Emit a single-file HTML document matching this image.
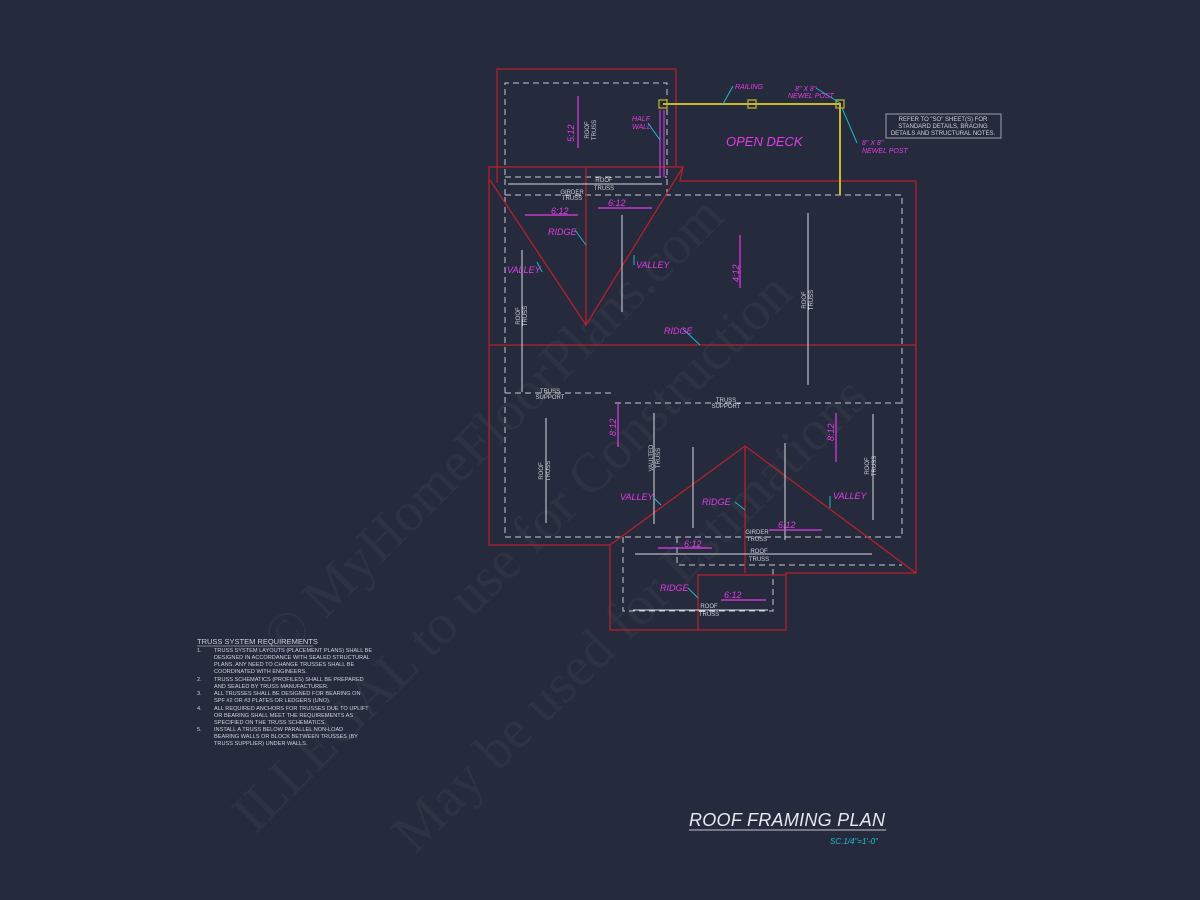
<!DOCTYPE html>
<html><head><meta charset="utf-8"><style>
html,body{margin:0;padding:0;background:#252a3c;}
svg{display:block}
.m{fill:#e43ce4;font-family:"Liberation Sans",sans-serif;font-style:italic;}
.w{fill:#d0d0d8;font-family:"Liberation Sans",sans-serif;}
</style></head><body>
<svg width="1200" height="900" viewBox="0 0 1200 900" xmlns="http://www.w3.org/2000/svg">
<rect width="1200" height="900" fill="#252a3c"/>
<g font-family="Liberation Serif,serif" font-size="56" fill="#ffffff" fill-opacity="0.045">
<text transform="translate(285,660) rotate(-45)">© MyHomeFloorPlans.com</text>
<text transform="translate(255,835) rotate(-45)">ILLEGAL to use for Construction</text>
<text transform="translate(415,855) rotate(-45)">May be used for Estimations</text>
</g>
<g stroke="#c8c8d0" stroke-width="1" fill="none" stroke-dasharray="6,4">
<path d="M505,195 V83 H667 V195"/>
<path d="M505,177 H667"/>
<path d="M505,195 H902 V537 H505 Z"/>
<path d="M505,393 H615"/>
<path d="M615,403 H902"/>
<path d="M623,537 V611 H773 V565"/>
<path d="M677,537 V565 H902"/>
</g>
<g stroke="#b4202c" stroke-width="1.3" fill="none">
<path d="M497,183 V69 H676 V167"/>
<path d="M489,167 H683 L680,181 H916 V573 H786 V630 H610 V545 H489 Z"/>
<path d="M489,345 H916"/>
<path d="M490,180 L586,325 L683,167 M586,167 V325"/>
<path d="M610,545 L745,446 L916,573 M745,446 V573 M698,630 V575 H786"/>
</g>
<g stroke="#d8d8e0" stroke-width="1">
<path d="M508,184 H662"/>
<path d="M522,250 V392 M622,215 V312 M808,213 V385 M546,418 V523 M654,413 V524 M693,447 V528 M785,443 V540 M873,414 V520 M635,554 H872 M633,610 H768"/>
</g>
<g stroke="#e43ce4" stroke-width="1.2">
<path d="M578,96 V148 M740,235 V288 M525,215 H578 M598,208 H652 M618,403 V447 M836,413 V462 M769,530 H822 M658,548 H712 M721,600 H766"/>
</g>
<g stroke="#c8b830" stroke-width="2" fill="none">
<path d="M663,104 H840 V195"/>
<rect x="659" y="100" width="8" height="8" stroke-width="1.2"/>
<rect x="748" y="100" width="8" height="8" stroke-width="1.2"/>
<rect x="836" y="100" width="8" height="8" stroke-width="1.2"/>
</g>
<path d="M660,110 V177 M664,110 V177" stroke="#c040d0" stroke-width="1.2"/>
<g stroke="#20b8c8" stroke-width="1" fill="none">
<path d="M733,86 L723,104 M816,88 L840,103 M842,108 L857,143 M648,123 L660,140"/>
<path d="M575,230 L586,245 M537,262 L542,272 M634,255 L634,265 M683,329 L700,345"/>
<path d="M654,498 L661,505 M735,502 L745,510 M830,496 L830,508 M688,588 L698,598"/>
</g>
<g class="m" font-size="9">
<text x="735" y="89" font-size="7">RAILING</text>
<text x="795" y="91" font-size="7">8" X 8"</text><text x="788" y="98" font-size="7">NEWEL POST</text>
<text x="862" y="145" font-size="7">8" X 8"</text><text x="862" y="153" font-size="7">NEWEL POST</text>
<text x="632" y="121" font-size="7">HALF</text><text x="632" y="129" font-size="7">WALL</text>
<text x="726" y="146" font-size="13">OPEN DECK</text>
<text x="551" y="214">6:12</text><text x="608" y="206">6:12</text>
<text x="548" y="235">RIDGE</text>
<text x="507" y="273">VALLEY</text><text x="636" y="268">VALLEY</text>
<text x="664" y="334">RIDGE</text>
<text x="620" y="500">VALLEY</text><text x="702" y="505">RIDGE</text><text x="833" y="499">VALLEY</text>
<text x="778" y="528">6:12</text><text x="684" y="547">6:12</text>
<text x="660" y="591">RIDGE</text><text x="724" y="598">6:12</text>
<text transform="translate(574,142) rotate(-90)">5:12</text>
<text transform="translate(739,282) rotate(-90)">4:12</text>
<text transform="translate(616,436) rotate(-90)">8:12</text>
<text transform="translate(834,441) rotate(-90)">8:12</text>
</g>
<g class="w" font-size="6" text-anchor="middle">
<text x="604" y="182">ROOF</text><text x="604" y="190">TRUSS</text>
<text x="572" y="194">GIRDER</text><text x="572" y="200">TRUSS</text>
<text x="550" y="393">TRUSS</text><text x="550" y="399">SUPPORT</text>
<text x="726" y="402">TRUSS</text><text x="726" y="408">SUPPORT</text>
<text x="757" y="534">GIRDER</text><text x="757" y="541">TRUSS</text>
<text x="759" y="553">ROOF</text><text x="759" y="561">TRUSS</text>
<text x="709" y="608">ROOF</text><text x="709" y="616">TRUSS</text>
<g transform="translate(589,130) rotate(-90)"><text>ROOF</text><text y="7">TRUSS</text></g>
<g transform="translate(520,316) rotate(-90)"><text>ROOF</text><text y="7">TRUSS</text></g>
<g transform="translate(806,300) rotate(-90)"><text>ROOF</text><text y="7">TRUSS</text></g>
<g transform="translate(543,471) rotate(-90)"><text>ROOF</text><text y="7">TRUSS</text></g>
<g transform="translate(653,458) rotate(-90)"><text>VAULTED</text><text y="7">TRUSS</text></g>
<g transform="translate(869,466) rotate(-90)"><text>ROOF</text><text y="7">TRUSS</text></g>
</g>
<rect x="886" y="114" width="115" height="24" fill="none" stroke="#a0a0b0" stroke-width="1"/>
<g class="w" font-size="6" text-anchor="middle">
<text x="943" y="121">REFER TO "SO" SHEET(S) FOR</text>
<text x="943" y="128">STANDARD DETAILS, BRACING</text>
<text x="943" y="135">DETAILS AND STRUCTURAL NOTES.</text>
</g>
<g class="w" font-size="5.6">
<text x="197" y="644" font-size="7.5">TRUSS SYSTEM REQUIREMENTS</text>
<line x1="197" y1="646" x2="313" y2="646" stroke="#d0d0d8" stroke-width="0.6"/>
<text x="197" y="652">1.</text><text x="214" y="652">TRUSS SYSTEM LAYOUTS (PLACEMENT PLANS) SHALL BE</text>
<text x="214" y="659">DESIGNED IN ACCORDANCE WITH SEALED STRUCTURAL</text>
<text x="214" y="666">PLANS. ANY NEED TO CHANGE TRUSSES SHALL BE</text>
<text x="214" y="673">COORDINATED WITH ENGINEERS.</text>
<text x="197" y="681">2.</text><text x="214" y="681">TRUSS SCHEMATICS (PROFILES) SHALL BE PREPARED</text>
<text x="214" y="688">AND SEALED BY TRUSS MANUFACTURER.</text>
<text x="197" y="695">3.</text><text x="214" y="695">ALL TRUSSES SHALL BE DESIGNED FOR BEARING ON</text>
<text x="214" y="702">SPF #2 OR #3 PLATES OR LEDGERS (UNO).</text>
<text x="197" y="710">4.</text><text x="214" y="710">ALL REQUIRED ANCHORS FOR TRUSSES DUE TO UPLIFT</text>
<text x="214" y="717">OR BEARING SHALL MEET THE REQUIREMENTS AS</text>
<text x="214" y="724">SPECIFIED ON THE TRUSS SCHEMATICS.</text>
<text x="197" y="731">5.</text><text x="214" y="731">INSTALL A TRUSS BELOW PARALLEL NON-LOAD</text>
<text x="214" y="738">BEARING WALLS OR BLOCK BETWEEN TRUSSES (BY</text>
<text x="214" y="745">TRUSS SUPPLIER) UNDER WALLS.</text>
</g>
<text x="689" y="826" font-family="Liberation Sans,sans-serif" font-style="italic" font-size="18" fill="#e8e8ee" textLength="196">ROOF FRAMING PLAN</text>
<line x1="689" y1="830" x2="886" y2="830" stroke="#9090a0" stroke-width="1.5"/>
<text x="830" y="844" font-family="Liberation Sans,sans-serif" font-style="italic" font-size="8" fill="#20c0d0">SC.1/4"=1'-0"</text>
</svg>
</body></html>
